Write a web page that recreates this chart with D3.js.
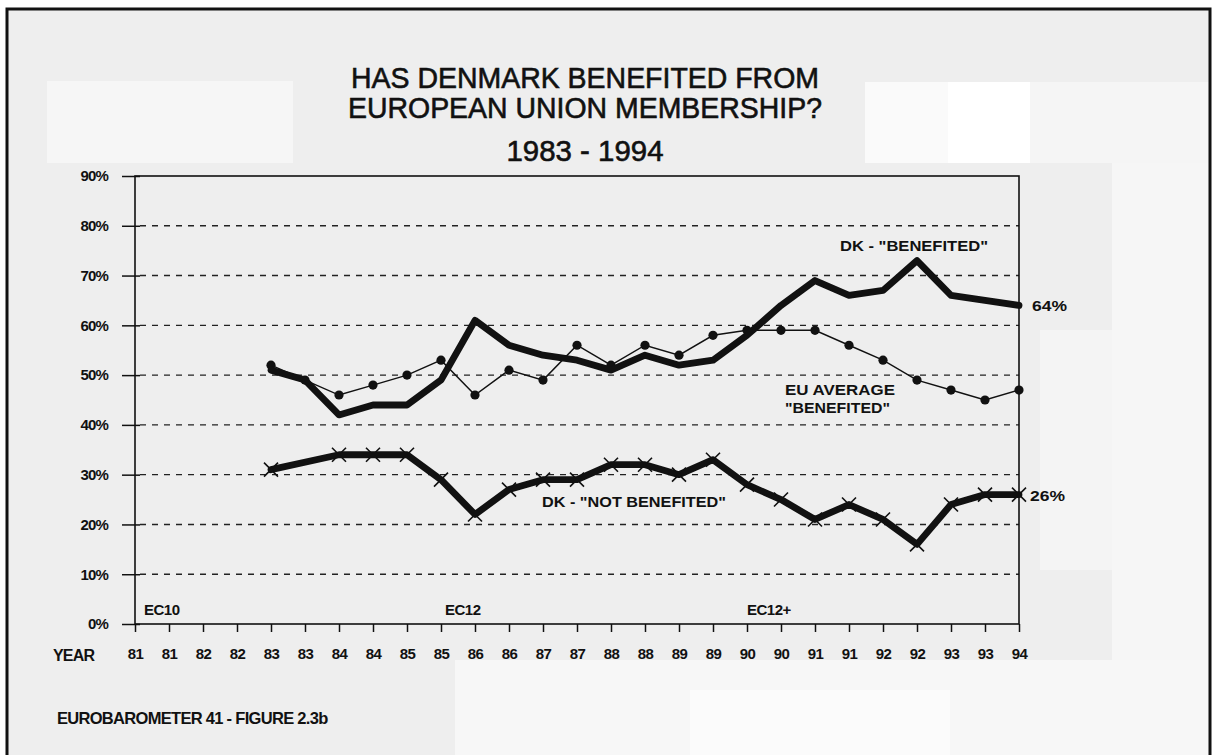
<!DOCTYPE html>
<html><head><meta charset="utf-8">
<script src="https://cdn.jsdelivr.net/npm/d3@7/dist/d3.min.js"></script>
<style>body{margin:0;background:#fff}svg{display:block}text{font-family:"Liberation Sans",Arial,sans-serif;fill:#111}</style>
</head><body><svg id="c" width="1213" height="755"></svg>
<script>
const yearLabels = ["81","81","82","82","83","83","84","84","85","85","86","86","87","87","88","88","89","89","90","90","91","91","92","92","93","93","94"];
const yTicks = [0,10,20,30,40,50,60,70,80,90];
const dkBenefited = [null,null,null,null,51,49,42,44,44,49,61,56,54,53,51,54,52,53,58,64,69,66,67,73,66,65,64];
const euAverage   = [null,null,null,null,52,49,46,48,50,53,46,51,49,56,52,56,54,58,59,59,59,56,53,49,47,45,47];
const dkNotBenefited = [null,null,null,null,31,null,34,34,34,29,22,27,29,29,32,32,30,33,28,25,21,24,21,16,24,26,26];
const periods = [{label:"EC10", i:0},{label:"EC12", i:9},{label:"EC12+", i:19}];

const svg = d3.select("#c");
// background
svg.append("rect").attr("x",0).attr("y",0).attr("width",1213).attr("height",755).attr("fill","#fff");
svg.append("rect").attr("x",7).attr("y",9).attr("width",1203).attr("height",746).attr("fill","#eeeeee");
const patches = [[47,81,246,82,"#f6f6f6"],[865,82,83,81,"#fafafa"],[948,82,82,81,"#ffffff"],[1030,82,180,81,"#f5f5f5"],
 [1112,163,98,500,"#f6f6f6"],[1040,330,72,240,"#f4f4f4"],[455,660,755,95,"#f7f7f7"],[690,690,260,65,"#fbfbfb"]];
patches.forEach(p=>svg.append("rect").attr("x",p[0]).attr("y",p[1]).attr("width",p[2]).attr("height",p[3]).attr("fill",p[4]));
// frame
svg.append("path").attr("d","M7,755 V9 H1210 V755").attr("fill","none").attr("stroke","#111").attr("stroke-width",3);

const x = d3.scaleLinear().domain([0, yearLabels.length-1]).range([135,1019]);
const y = d3.scaleLinear().domain([0,90]).range([624,176]);

// gridlines
svg.append("g").selectAll("line").data(yTicks.filter(t=>t>0&&t<90)).join("line")
  .attr("x1",140).attr("x2",1019).attr("y1",d=>y(d)).attr("y2",d=>y(d))
  .attr("stroke","#222").attr("stroke-width",1.4).attr("stroke-dasharray","6,6");

// axes
const yAxis = d3.axisLeft(y).tickValues(yTicks).tickSize(13).tickFormat(d=>d+"%");
const gy = svg.append("g").attr("transform","translate(135,0)").call(yAxis);
gy.select(".domain").remove();
gy.selectAll(".tick line").attr("stroke","#111").attr("stroke-width",1.5).attr("x2",-13).attr("x1",5);
gy.selectAll(".tick text").attr("x",-27).attr("font-size",15).attr("font-weight","bold").attr("fill","#111").attr("letter-spacing",-0.8);

const xAxis = d3.axisBottom(x).tickValues(d3.range(yearLabels.length)).tickSize(8).tickFormat(i=>yearLabels[i]);
const gx = svg.append("g").attr("transform","translate(0,624)").call(xAxis);
gx.select(".domain").remove();
gx.selectAll(".tick line").attr("stroke","#111").attr("stroke-width",1.5);
gx.selectAll(".tick text").attr("y",24).attr("font-size",15).attr("font-weight","bold").attr("fill","#111").attr("letter-spacing",-0.6);

// plot border
svg.append("rect").attr("x",135).attr("y",176).attr("width",1019-135).attr("height",624-176)
  .attr("fill","none").attr("stroke","#111").attr("stroke-width",1.6);

svg.append("text").attr("x",53).attr("y",661).attr("font-size",16).attr("font-weight","bold").attr("letter-spacing",-0.8).text("YEAR");

// lines
const pts = arr => arr.map((v,i)=>({i,v})).filter(d=>d.v!==null);
const line = d3.line().x(d=>x(d.i)).y(d=>y(d.v));

svg.append("path").datum(pts(euAverage)).attr("d",line).attr("fill","none").attr("stroke","#111").attr("stroke-width",1.4);
svg.append("g").selectAll("circle").data(pts(euAverage)).join("circle")
  .attr("cx",d=>x(d.i)).attr("cy",d=>y(d.v)).attr("r",4.6).attr("fill","#111");

svg.append("path").datum(pts(dkBenefited)).attr("d",line).attr("fill","none").attr("stroke","#111")
  .attr("stroke-width",6.8).attr("stroke-linejoin","round").attr("stroke-linecap","round");

svg.append("path").datum(pts(dkNotBenefited)).attr("d",line).attr("fill","none").attr("stroke","#111")
  .attr("stroke-width",6.8).attr("stroke-linejoin","round").attr("stroke-linecap","round");
svg.append("g").selectAll("path").data(pts(dkNotBenefited)).join("path")
  .attr("d",d=>{const cx=x(d.i),cy=y(d.v),s=7;return `M${cx-s},${cy-s}L${cx+s},${cy+s}M${cx-s},${cy+s}L${cx+s},${cy-s}`;})
  .attr("stroke","#111").attr("stroke-width",1.6);

// title
const title = [["HAS DENMARK BENEFITED FROM",88,468],["EUROPEAN UNION MEMBERSHIP?",118,474],["1983 - 1994",161,157]];
title.forEach(t=>svg.append("text").attr("x",585).attr("y",t[1]).attr("text-anchor","middle").attr("font-size",29)
  .attr("textLength",t[2]).attr("lengthAdjust","spacingAndGlyphs").attr("stroke","#111").attr("stroke-width",0.6).text(t[0]));

// annotations
const ann = [["DK - \"BENEFITED\"",840,251,148],["64%",1032,311,35],["EU AVERAGE",785,395,110],["\"BENEFITED\"",785,413,105],
 ["DK - \"NOT BENEFITED\"",542,507,184],["26%",1030,501,35]];
ann.forEach(a=>svg.append("text").attr("x",a[1]).attr("y",a[2]).attr("font-size",15).attr("font-weight","bold")
  .attr("textLength",a[3]).attr("lengthAdjust","spacingAndGlyphs").text(a[0]));
periods.forEach((p,k)=>svg.append("text").attr("x",x(p.i)+(k===0?9:(k===1?4:-34))).attr("y",615).attr("font-size",15).attr("font-weight","bold")
  .attr("letter-spacing",-0.5).text(p.label));

svg.append("text").attr("x",57).attr("y",724).attr("font-size",16.5).attr("font-weight","bold").attr("letter-spacing",-0.7)
  .text("EUROBAROMETER 41 - FIGURE 2.3b");
</script></body></html>
